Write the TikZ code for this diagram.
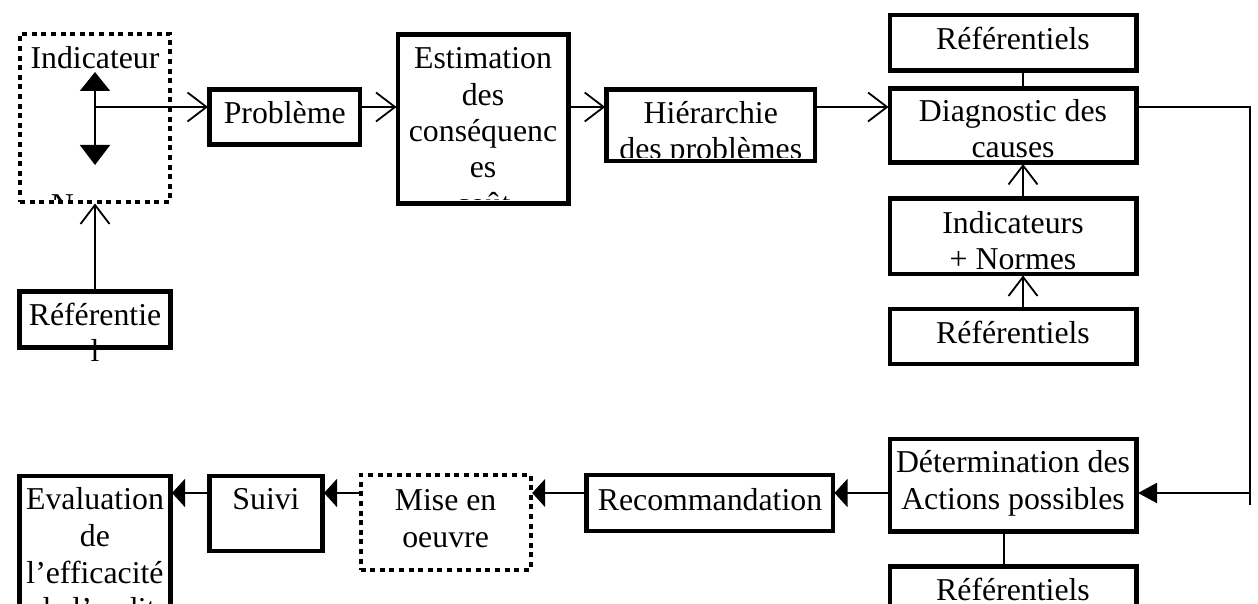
\documentclass[tikz,border=0pt]{standalone}
\usepackage{fontspec}
\setmainfont{Liberation Serif}
\usetikzlibrary{arrows.meta}
\newcommand\fsz{\fontsize{31.8pt}{36.3pt}\selectfont}
\newcommand\mybox[6]{\node[#6, minimum width={(#4-#2)*1pt}, minimum height={(#5-#3)*1pt}] (#1) at ({(#2+#4)/2},{(#3+#5)/2}) {};}
\begin{document}
\begin{tikzpicture}[x=1pt,y=-1pt,
  box/.style={draw, rectangle, line width=4.5pt, outer sep=0pt, inner sep=0pt},
  dbox/.style={draw, rectangle, line width=4pt, dash pattern=on 5pt off 4.6pt, outer sep=0pt, inner sep=0pt},
  lbl/.style={font=\fsz, inner sep=0pt, anchor=base},
  conn/.style={line width=1.8pt},
  oarr/.style={conn, shorten >=1.5pt, -{Straight Barb[length=19pt,width=29pt]}},
  farr/.style={conn, shorten >=1.5pt, -{Triangle[length=13pt,width=28pt]}},
  farrb/.style={conn, shorten >=1.5pt, -{Triangle[length=19pt,width=20pt]}}]
\useasboundingbox (0,0) rectangle (1258,604);
\clip (0,0) rectangle (1258,604);
% boxes
\mybox{ind}{20}{34}{170}{202}{dbox}
\mybox{prob}{209.5}{89.5}{360}{144.5}{box}
\mybox{est}{398}{34.5}{568.3}{203.5}{box}
\mybox{hier}{606.7}{89.5}{815}{161}{box}
\mybox{refa}{890}{15}{1136.5}{70.5}{box}
\mybox{diag}{890}{88.5}{1136.5}{162.5}{box}
\mybox{indn}{890}{198.5}{1136.5}{274}{box}
\mybox{refb}{890}{309}{1136.5}{364}{box}
\mybox{det}{890}{439}{1136.5}{531.7}{box}
\mybox{refc}{890}{566.5}{1136.5}{640}{box}
\mybox{rec}{586.5}{475}{833}{530.8}{box}
\mybox{mise}{360.5}{475}{530.7}{569.5}{dbox}
\mybox{suivi}{209.5}{475.8}{322.5}{550.8}{box}
\mybox{eval}{19.7}{475.8}{170.5}{660}{box}
\mybox{ref0}{19.7}{291.7}{170.5}{347.5}{box}
% texts
\begin{scope}
  \clip (20,34) rectangle (170,200);
  \node[lbl] (t1) at (95,69) {Indicateur};
  \node[lbl] (t2) at (95,215.4) {Norme};
\end{scope}
\node[lbl] (t3) at (284.7,124) {Problème};
\begin{scope}
  \clip (398,34.5) rectangle (568.3,200);
  \node[lbl] (t4) at (483,69) {Estimation};
  \node[lbl] (t5) at (483,105.3) {des};
  \node[lbl] (t6) at (483,141.6) {conséquenc};
  \node[lbl] (t7) at (483,177.9) {es};
  \node[lbl] (t8) at (483,214.2) {coût};
\end{scope}
\begin{scope}
  \clip (606.7,89.5) rectangle (815,158);
  \node[lbl] (t9) at (710.8,123.3) {Hiérarchie};
  \node[lbl] (t10) at (710.8,159.6) {des problèmes};
\end{scope}
\node[lbl] (t11) at (1013,50) {Référentiels};
\begin{scope}
  \clip (890,88.5) rectangle (1136.5,157.5);
  \node[lbl] (t12) at (1013,121.7) {Diagnostic des};
  \node[lbl] (t13) at (1013,158) {causes};
\end{scope}
\begin{scope}
  \clip (890,198.5) rectangle (1136.5,269);
  \node[lbl] (t14) at (1013,233.3) {Indicateurs};
  \node[lbl] (t15) at (1013,269.6) {+ Normes};
\end{scope}
\node[lbl] (t16) at (1013,343.3) {Référentiels};
\node[lbl] (t17) at (1013,472.3) {Détermination des};
\node[lbl] (t18) at (1013,509.3) {Actions possibles};
\node[lbl] (t19) at (1013,600.4) {Référentiels};
\node[lbl] (t20) at (710,510) {Recommandation};
\node[lbl] (t21) at (445.6,510) {Mise en};
\node[lbl] (t22) at (445.6,547.3) {oeuvre};
\node[lbl] (t23) at (266,509.3) {Suivi};
\node[lbl] (t24) at (95,509.3) {Evaluation};
\node[lbl] (t25) at (95,546.7) {de};
\node[lbl] (t26) at (95,583.3) {l’efficacité};
\node[lbl] (t27) at (95,619.6) {de l’audit};
\node[lbl] (t28) at (95,325) {Référentie};
\node[lbl] (t29) at (95,361.6) {l};
% connectors
\coordinate (r1) at (95,107);
\coordinate (iu) at (95,72);
\coordinate (id) at (95,165);
\draw[conn, {Triangle[length=19pt,width=30pt]}-{Triangle[length=20pt,width=30pt]}] (iu) -- (id);
\draw[oarr] (r1) -- (r1 -| prob.west);
\draw[oarr] (prob.east |- r1) -- (est.west |- r1);
\draw[oarr] (est.east |- r1) -- (hier.west |- r1);
\draw[oarr] (hier.east |- r1) -- (diag.west |- r1);
\draw[oarr] (ref0.north) -- (ind.south);
\coordinate (cx) at (1023,0);
\draw[conn] (refa.south -| cx) -- (diag.north -| cx);
\draw[oarr] (indn.north -| cx) -- (diag.south -| cx);
\draw[oarr] (refb.north -| cx) -- (indn.south -| cx);
\coordinate (dx) at (1004.3,0);
\draw[conn] (det.south -| dx) -- (refc.north -| dx);
\coordinate (c1) at (1250,505);
\coordinate (c2) at (1250,493);
\draw[conn] (diag.east |- r1) -| (c1);
\draw[farrb] (c2) -- (c2 -| det.east);
\draw[farr] (det.west |- c2) -- (rec.east |- c2);
\draw[farr] (rec.west |- c2) -- (mise.east |- c2);
\draw[farr] (mise.west |- c2) -- (suivi.east |- c2);
\draw[farr] (suivi.west |- c2) -- (eval.east |- c2);
\end{tikzpicture}
\end{document}
